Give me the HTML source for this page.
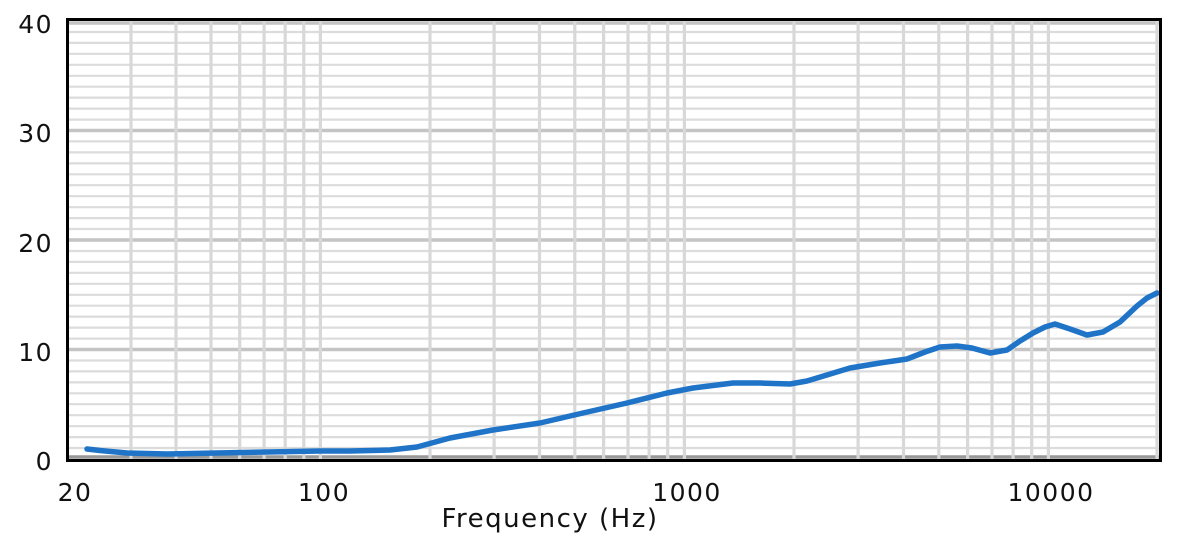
<!DOCTYPE html>
<html><head><meta charset="utf-8"><style>
html,body{margin:0;padding:0;background:#fff;width:1184px;height:541px;overflow:hidden}
text{font-family:"DejaVu Sans","Liberation Sans",sans-serif;fill:#111}
</style></head><body>
<svg width="1184" height="541" viewBox="0 0 1184 541" xmlns="http://www.w3.org/2000/svg">
<g stroke="#dcdcdc" stroke-width="2.2">
<line x1="69" x2="1160" y1="448" y2="448"/><line x1="69" x2="1160" y1="437.1" y2="437.1"/><line x1="69" x2="1160" y1="426.2" y2="426.2"/><line x1="69" x2="1160" y1="415.2" y2="415.2"/><line x1="69" x2="1160" y1="404.2" y2="404.2"/><line x1="69" x2="1160" y1="393.3" y2="393.3"/><line x1="69" x2="1160" y1="382.4" y2="382.4"/><line x1="69" x2="1160" y1="371.4" y2="371.4"/><line x1="69" x2="1160" y1="360.5" y2="360.5"/>
<line x1="69" x2="1160" y1="338.6" y2="338.6"/><line x1="69" x2="1160" y1="327.6" y2="327.6"/><line x1="69" x2="1160" y1="316.6" y2="316.6"/><line x1="69" x2="1160" y1="305.7" y2="305.7"/><line x1="69" x2="1160" y1="294.8" y2="294.8"/><line x1="69" x2="1160" y1="283.8" y2="283.8"/><line x1="69" x2="1160" y1="272.8" y2="272.8"/><line x1="69" x2="1160" y1="261.9" y2="261.9"/><line x1="69" x2="1160" y1="251" y2="251"/>
<line x1="69" x2="1160" y1="229" y2="229"/><line x1="69" x2="1160" y1="218.1" y2="218.1"/><line x1="69" x2="1160" y1="207.2" y2="207.2"/><line x1="69" x2="1160" y1="196.2" y2="196.2"/><line x1="69" x2="1160" y1="185.2" y2="185.2"/><line x1="69" x2="1160" y1="174.3" y2="174.3"/><line x1="69" x2="1160" y1="163.4" y2="163.4"/><line x1="69" x2="1160" y1="152.4" y2="152.4"/><line x1="69" x2="1160" y1="141.4" y2="141.4"/>
<line x1="69" x2="1160" y1="119.6" y2="119.6"/><line x1="69" x2="1160" y1="108.6" y2="108.6"/><line x1="69" x2="1160" y1="97.6" y2="97.6"/><line x1="69" x2="1160" y1="86.7" y2="86.7"/><line x1="69" x2="1160" y1="75.8" y2="75.8"/><line x1="69" x2="1160" y1="64.8" y2="64.8"/><line x1="69" x2="1160" y1="53.8" y2="53.8"/><line x1="69" x2="1160" y1="42.9" y2="42.9"/><line x1="69" x2="1160" y1="32" y2="32"/>
</g>
<g stroke="#c4c4c4" stroke-width="3.5">
<line x1="69" x2="1160" y1="349.5" y2="349.5"/><line x1="69" x2="1160" y1="240" y2="240"/><line x1="69" x2="1160" y1="130.5" y2="130.5"/>
<line x1="69" x2="1160" y1="23" y2="23"/><line x1="69" x2="1160" y1="457" y2="457" stroke="#999"/>
</g>
<g stroke="#d8d8d8" stroke-width="3.2">
<line x1="131" x2="131" y1="21" y2="459"/><line x1="176" x2="176" y1="21" y2="459"/><line x1="211" x2="211" y1="21" y2="459"/><line x1="239.7" x2="239.7" y1="21" y2="459"/><line x1="264.1" x2="264.1" y1="21" y2="459"/><line x1="285.2" x2="285.2" y1="21" y2="459"/><line x1="303.8" x2="303.8" y1="21" y2="459"/><line x1="320.4" x2="320.4" y1="21" y2="459"/>
<line x1="430" x2="430" y1="21" y2="459"/><line x1="494.1" x2="494.1" y1="21" y2="459"/><line x1="539.5" x2="539.5" y1="21" y2="459"/><line x1="574.8" x2="574.8" y1="21" y2="459"/><line x1="603.6" x2="603.6" y1="21" y2="459"/><line x1="628" x2="628" y1="21" y2="459"/><line x1="649.1" x2="649.1" y1="21" y2="459"/><line x1="667.7" x2="667.7" y1="21" y2="459"/><line x1="684.4" x2="684.4" y1="21" y2="459"/>
<line x1="794" x2="794" y1="21" y2="459"/><line x1="858.1" x2="858.1" y1="21" y2="459"/><line x1="903.5" x2="903.5" y1="21" y2="459"/><line x1="938.8" x2="938.8" y1="21" y2="459"/><line x1="967.6" x2="967.6" y1="21" y2="459"/><line x1="992" x2="992" y1="21" y2="459"/><line x1="1013.1" x2="1013.1" y1="21" y2="459"/><line x1="1031.7" x2="1031.7" y1="21" y2="459"/><line x1="1048.4" x2="1048.4" y1="21" y2="459"/><line x1="1157" x2="1157" y1="21" y2="459"/>
</g>
<polyline fill="none" stroke="#1f74c8" stroke-width="5.5" stroke-linejoin="round" stroke-linecap="round"
points="87,449 100,450.5 127,453 167,454 217,453 267,452 320,451 350,451 390,450 417,447 450,438 493,430 540,423 583,413 627,403 667,393 693,388 733,383 760,383 790,384 807,381 850,368 880,363 907,359 925,352 940,347 957,346 972,348 990,353 1007,350 1020,341 1033,333 1045,327 1055,324 1070,329 1087,335 1103,332 1120,322 1137,306 1147,298 1157,293"/>
<rect x="67.5" y="19.5" width="1093" height="441" fill="none" stroke="#000" stroke-width="3"/>
<g font-size="25" text-anchor="end" letter-spacing="1.5">
<text x="53" y="33">40</text><text x="53" y="142">30</text><text x="53" y="252">20</text><text x="53" y="361">10</text><text x="53" y="470">0</text>
</g>
<g font-size="25" text-anchor="middle" letter-spacing="1.5">
<text x="75" y="501">20</text><text x="324" y="501">100</text><text x="687" y="501">1000</text><text x="1051" y="501">10000</text>
<text x="550" y="527" font-size="26">Frequency (Hz)</text>
</g>
</svg>
</body></html>
